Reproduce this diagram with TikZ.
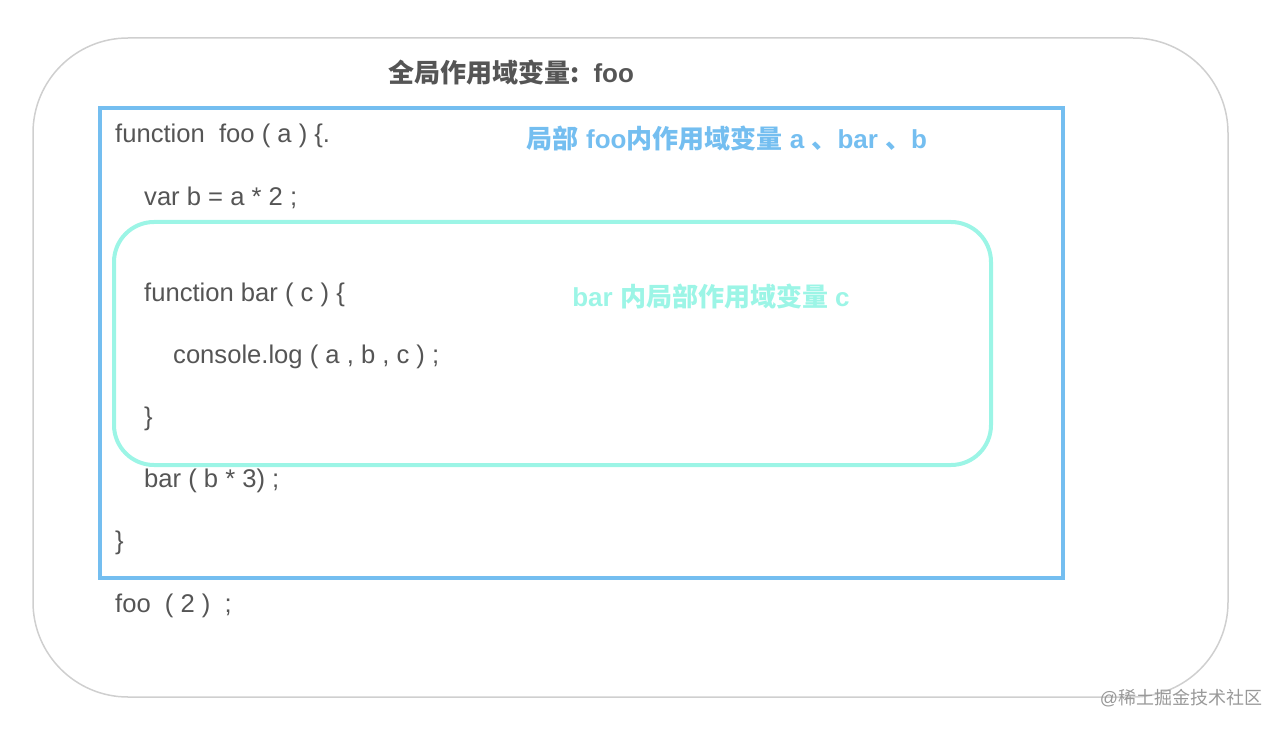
\documentclass[tikz,border=0pt]{standalone}
\usepackage{fontspec}
\setmainfont{Liberation Sans}
\newfontfamily\cjk{Noto Sans CJK SC}
\usetikzlibrary{positioning}

\definecolor{codegray}{HTML}{555555}
\definecolor{outergray}{HTML}{CFCFCF}
\definecolor{fooblue}{HTML}{74BEF0}
\definecolor{barcyan}{HTML}{9CF5E6}
\newcommand{\zh}[1]{{\cjk #1}}

\begin{document}
\begin{tikzpicture}[x=1pt,y=-1pt,
            globalbox/.style={draw=outergray,line width=1.5pt,rectangle,rounded corners=95pt},
            foobox/.style={draw=fooblue,line width=4pt,rectangle},
            barbox/.style={draw=barcyan,line width=4pt,rectangle,rounded corners=40pt},
            code/.style={text=codegray,anchor=base west,inner sep=0pt,font=\fontsize{25.6}{30}\selectfont},
            scopelabel/.style={inner sep=0pt,font=\fontsize{26}{30}\selectfont\bfseries}]
        \useasboundingbox (0,0) rectangle (1282,730);
        % scope boxes
        \node[globalbox, minimum width=1195pt, minimum height=659pt] (global) at (630.5,367.5) {};
        \node[foobox, minimum width=963pt, minimum height=470pt] (foo) at (581.5,343) {};
        \node[barbox, minimum width=877pt, minimum height=243pt] (bar) at (552.5,343.5) {};

        % labels
        \node[scopelabel, text=codegray] (globallabel) at (511,73) {\zh{全局作用域变量:}\ \ foo};
        \node[scopelabel, text=fooblue] (foolabel) at (727,139) {\zh{局部} foo\zh{内作用域变量} a \zh{、}bar \zh{、}b};
        \node[scopelabel, text=barcyan] (barlabel) at (711,297) {bar \zh{内局部作用域变量} c};

        % code lines
        \node[code] (line1) at (115,143) {function\ \ foo ( a ) \{.};
        \node[code] (line2) at (144,206) {var b = a * 2 ;};
        \node[code] (line3) at (144,301) {function bar ( c ) \{};
        \node[code] (line4) at (173,363) {console.log ( a , b , c ) ;};
        \node[code] (line5) at (144,425) {\}};
        \node[code] (line6) at (144,487) {bar ( b * 3) ;};
        \node[code] (line7) at (115,549) {\}};
        \node[code] (line8) at (115,612) {foo\ \ ( 2 )\ \ ;};

        \node[text=black!40, inner sep=0pt, font=\fontsize{18}{20}\selectfont] (mark) at (1181,698) {@\zh{稀土掘金技术社区}};
    \end{tikzpicture}
\end{document}
